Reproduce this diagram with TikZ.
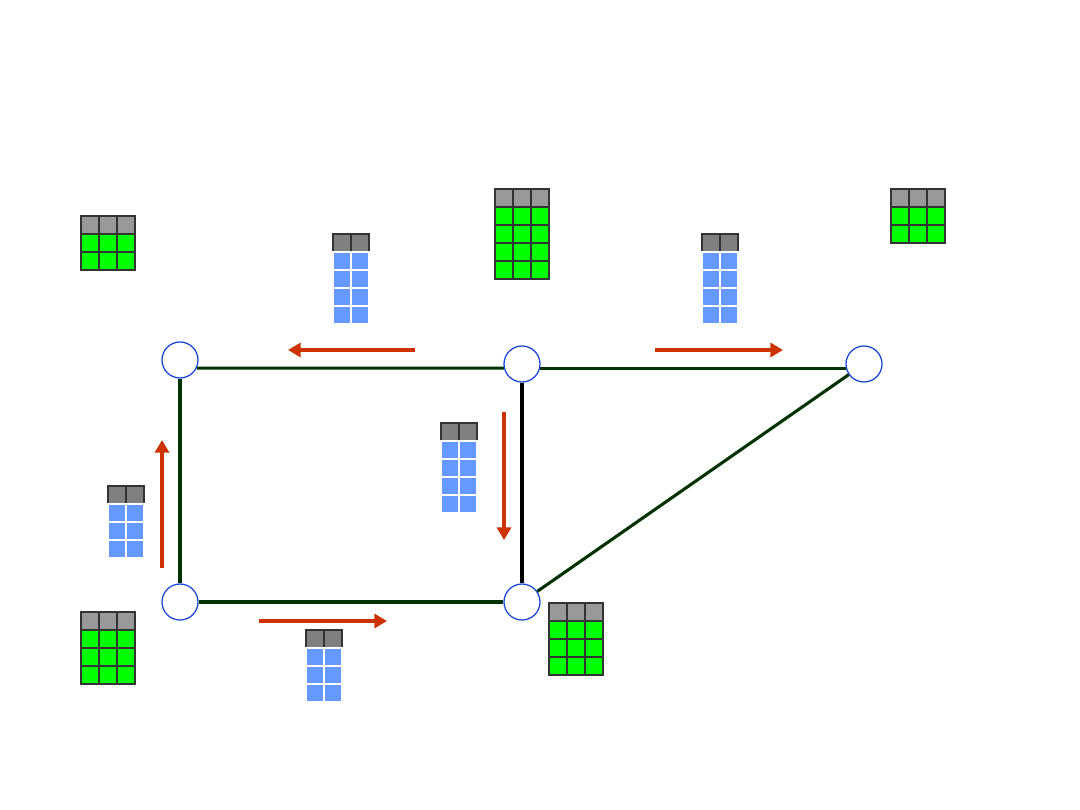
\documentclass[tikz,border=0pt]{standalone}
\usepackage{tikz}
\usetikzlibrary{arrows.meta}

\definecolor{linkgreen}{HTML}{003300}
\definecolor{flowred}{HTML}{CC3300}
\definecolor{cellgreen}{HTML}{00FF00}
\definecolor{cellblue}{HTML}{6699FF}
\definecolor{headlight}{HTML}{999999}
\definecolor{headdark}{HTML}{808080}
\definecolor{rimgray}{HTML}{333333}
\definecolor{routerblue}{HTML}{1A47D6}

\tikzset{
  router/.style={circle, draw=routerblue, fill=white, minimum size=0.9cm, inner sep=0pt, line width=0.9pt},
  link/.style={line width=2.2pt, linkgreen},
  flow/.style={line width=2.2pt, flowred, -{Triangle[length=9pt,width=10pt]}},
  cell/.style={line width=0.9pt}
}

% routing table: x, y, rows
\newcommand{\greentable}[3]{%
  \foreach \c in {0,1,2} {
    \draw[cell, rimgray, fill=headlight] (#1+18*\c,#2) rectangle ++(18,18);
    \foreach \r in {1,...,#3}
      \draw[cell, rimgray, fill=cellgreen] (#1+18*\c,#2+18*\r) rectangle ++(18,18);
  }}
% update message: x, y, rows
\newcommand{\bluetable}[3]{%
  \foreach \c in {0,1} {
    \draw[cell, rimgray, fill=headdark] (#1+18*\c,#2) rectangle ++(18,18);
    \foreach \r in {1,...,#3}
      \draw[cell, white, fill=cellblue] (#1+18*\c,#2+18*\r) rectangle ++(18,18);
  }}

\begin{document}
\begin{tikzpicture}[x=0.025cm, y=-0.025cm]
  \useasboundingbox (0,0) rectangle (1080,810);

  % Routers
  \node[router] (A) at (180,360) {};
  \node[router] (B) at (522,364) {};
  \node[router] (C) at (864,364) {};
  \node[router] (D) at (180,602) {};
  \node[router] (E) at (522,602) {};

  % Links
  \draw[link] (A.-26) -- (B.-167);
  \draw[link] (B.-13) -- (C.-167);
  \draw[link] (A) -- (D);
  \draw[link] (D) -- (E);
  \draw[line width=2.2pt, black] (B) -- (E);
  \draw[link] (E) -- (C);

  % Updates in flight
  \draw[flow] (415,350) -- (288,350);
  \draw[flow] (655,350) -- (783,350);
  \draw[flow] (504,412) -- (504,540);
  \draw[flow] (162,568) -- (162,440);
  \draw[flow] (259,621) -- (387,621);

  % Tables
  \greentable{81}{216}{2}
  \greentable{495}{189}{4}
  \greentable{891}{189}{2}
  \greentable{81}{612}{3}
  \greentable{549}{603}{3}

  \bluetable{333}{234}{4}
  \bluetable{702}{234}{4}
  \bluetable{441}{423}{4}
  \bluetable{108}{486}{3}
  \bluetable{306}{630}{3}
\end{tikzpicture}
\end{document}
